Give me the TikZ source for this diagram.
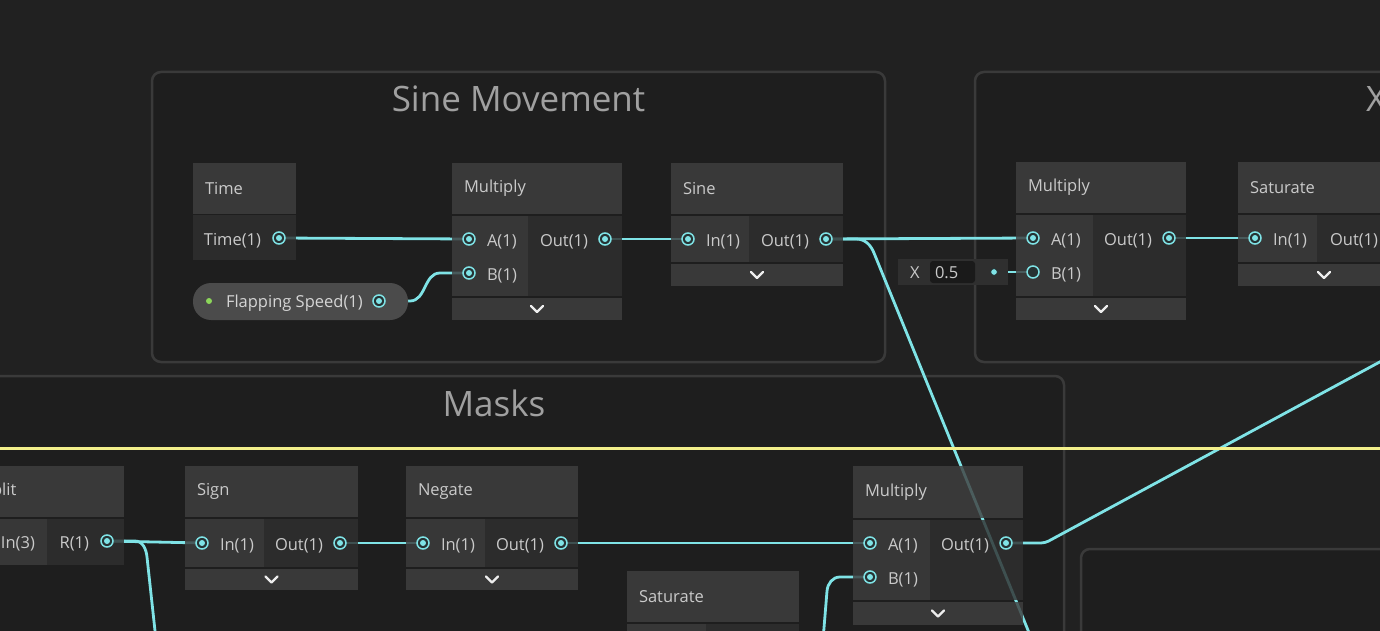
\documentclass[tikz,border=0pt]{standalone}
\usepackage{fontspec}
\setmainfont{Open Sans}
\usetikzlibrary{positioning,calc}

\definecolor{bgc}{HTML}{212121}
\definecolor{grpfill}{HTML}{1E1E1E}
\definecolor{grpline}{HTML}{3A3A3A}
\definecolor{grptext}{HTML}{A0A0A0}
\definecolor{nhead}{HTML}{404040}
\definecolor{nin}{HTML}{3D3D3D}
\definecolor{nout}{HTML}{303030}
\definecolor{nbar}{HTML}{3F3F3F}
\definecolor{ntext}{HTML}{CACACA}
\definecolor{wirec}{HTML}{7FE3E6}
\definecolor{portbg}{HTML}{263233}
\definecolor{pillc}{HTML}{4B4B4B}
\definecolor{fieldc}{HTML}{2F2F2F}
\definecolor{fieldin}{HTML}{1A1A1A}
\definecolor{propdot}{HTML}{8CD65A}
\definecolor{stickyc}{HTML}{F3F08B}
\definecolor{chevc}{HTML}{EDEDED}

\newcommand{\nfont}{\fontsize{16.5}{19}\selectfont}
\newcommand{\gfont}{\fontsize{35}{40}\selectfont}

\pgfdeclarelayer{bg}
\pgfdeclarelayer{edges}
\pgfdeclarelayer{fg}
\pgfsetlayers{bg,edges,main,fg}

\tikzset{
    every node/.append style={outer sep=0pt},
    chevron/.pic={\draw[chev] (-6,-3) -- (0,3) -- (6,-3);}
}

\begin{document}
\begin{tikzpicture}[x=1pt, y=-1pt,
    grp/.style={anchor=north west, draw=grpline, line width=2.5pt, fill=grpfill, rounded corners=9pt, inner sep=0pt},
    gtitle/.style={text=grptext, font=\gfont, inner sep=0pt},
    hdr/.style={anchor=north west, fill=nhead, fill opacity=0.82, text opacity=1, text=ntext, minimum height=51pt, inner xsep=12pt, inner ysep=0pt, align=left, font=\nfont},
    incol/.style={anchor=north west, fill=nin, fill opacity=0.82, inner sep=0pt},
    outcol/.style={anchor=north west, fill=nout, fill opacity=0.82, inner sep=0pt},
    bar/.style={anchor=north west, fill=nbar, fill opacity=0.82, minimum height=22pt, inner sep=0pt},
    lbl/.style={anchor=west, text=ntext, font=\nfont, inner sep=0pt, yshift=-2.5pt},
    port/.style={circle, draw=wirec, line width=1.5pt, fill=portbg, minimum size=12pt, inner sep=0pt,
        path picture={\fill[wirec] (path picture bounding box.center) circle (3pt);}},
    portoff/.style={circle, draw=wirec, line width=1.5pt, fill=portbg, minimum size=12pt, inner sep=0pt},
    wire/.style={draw=wirec, line width=2.8pt},
    chev/.style={draw=chevc, line width=2.4pt, line cap=round, line join=round}
]
\useasboundingbox (0,0) rectangle (1380,631);

\begin{pgfonlayer}{bg}
\fill[bgc] (0,0) rectangle (1380,631);
\node[grp, minimum width=733pt, minimum height=290pt] (gsine) at (152,72) {};
\node[grp, minimum width=520pt, minimum height=290pt] (gx) at (975,72) {};
\node[grp, minimum width=1140pt, minimum height=320pt] (gmask) at (-76,376) {};
\node[grp, minimum width=400pt, minimum height=160pt] (gside) at (1081,549) {};
\end{pgfonlayer}

\node[gtitle] (gsinet) at ([yshift=-27pt]gsine.north) {Sine Movement};
\node[gtitle, anchor=west] (gxt) at (1366,99) {X};
\node[gtitle] (gmaskt) at ([yshift=-27pt]gmask.north) {Masks};

% Sine Movement
\node[hdr, text width=79pt] (tn) at (193,163) {Time};
\node[outcol, minimum width=103pt, minimum height=45pt] (tnout) at (193,215) {};
\node[port] (tm) at (279,238) {};
\node[lbl, left=12pt of tm] (tml) {Time(1)};

\node[anchor=north west, fill=pillc, rounded corners=18pt, minimum width=215pt, minimum height=37pt, inner sep=0pt] (fs) at (193,283) {};
\node[circle, fill=propdot, minimum size=6pt, inner sep=0pt] (fsd) at (209,301) {};
\node[lbl, text=ntext!80!white] (fsl) at (226,301) {Flapping Speed(1)};
\node[port] (fsp) at (379,301) {};

\node[hdr, text width=146pt] (m1) at (452,163) {Multiply};
\node[incol, minimum width=76pt, minimum height=80pt] (m1in) at (452,216) {};
\node[outcol, minimum width=94pt, minimum height=80pt] (m1out) at (528,216) {};
\node[bar, minimum width=170pt] (m1bar) at (452,298) {};
\pic at (m1bar) {chevron};
\node[port] (m1a) at (469,239) {};
\node[port] (m1b) at (469,273) {};
\node[port] (m1o) at (605,239) {};
\node[lbl, right=12pt of m1a] (m1al) {A(1)};
\node[lbl, right=12pt of m1b] (m1bl) {B(1)};
\node[lbl, left=11pt of m1o] (m1ol) {Out(1)};

\node[hdr, text width=148pt] (sn) at (671,163) {Sine};
\node[incol, minimum width=78pt, minimum height=46pt] (snin) at (671,216) {};
\node[outcol, minimum width=94pt, minimum height=46pt] (snout) at (749,216) {};
\node[bar, minimum width=172pt] (snbar) at (671,264) {};
\pic at (snbar) {chevron};
\node[port] (si) at (688,239) {};
\node[port] (so) at (826,239) {};
\node[lbl, right=12pt of si] (sil) {In(1)};
\node[lbl, left=11pt of so] (sol) {Out(1)};

% X group
\node[anchor=north west, fill=fieldc, minimum width=110pt, minimum height=26pt, inner sep=0pt] (xf) at (898,259) {};
\node[lbl] (xfl) at (910,270) {X};
\node[anchor=north west, fill=fieldin, rounded corners=3pt, minimum width=45pt, minimum height=22pt, inner sep=0pt] (xv) at (930,261) {};
\node[lbl] (xvl) at (935,270) {0.5};
\node[circle, fill=wirec, draw=portbg, line width=1pt, minimum size=7pt, inner sep=0pt] (xd) at (994,272) {};

\node[hdr, text width=146pt] (m2) at (1016,162) {Multiply};
\node[incol, minimum width=77pt, minimum height=81pt] (m2in) at (1016,215) {};
\node[outcol, minimum width=93pt, minimum height=81pt] (m2out) at (1093,215) {};
\node[bar, minimum width=170pt] (m2bar) at (1016,298) {};
\pic at (m2bar) {chevron};
\node[port] (m2a) at (1033,238) {};
\node[portoff] (m2b) at (1033,272) {};
\node[port] (m2o) at (1169,238) {};
\node[lbl, right=12pt of m2a] (m2al) {A(1)};
\node[lbl, right=12pt of m2b] (m2bl) {B(1)};
\node[lbl, left=11pt of m2o] (m2ol) {Out(1)};

\node[hdr, text width=148pt] (st) at (1238,162) {Saturate};
\node[incol, minimum width=79pt, minimum height=47pt] (stin) at (1238,215) {};
\node[outcol, minimum width=93pt, minimum height=47pt] (stout) at (1317,215) {};
\node[bar, minimum width=172pt] (stbar) at (1238,264) {};
\pic at (stbar) {chevron};
\node[port] (sti) at (1255,238) {};
\node[lbl, right=12pt of sti] (stil) {In(1)};
\node[lbl] (stol) at (1330,238) {Out(1)};

% Masks
\node[hdr, text width=129pt] (sp) at (-29,466) {Split};
\node[incol, minimum width=76pt, minimum height=46pt] (spin) at (-29,519) {};
\node[outcol, minimum width=77pt, minimum height=46pt] (spout) at (47,519) {};
\node[lbl] (spil) at (1,541) {In(3)};
\node[port] (sr) at (107,541) {};
\node[lbl, left=12pt of sr] (srl) {R(1)};

\node[hdr, text width=149pt] (sg) at (185,466) {Sign};
\node[incol, minimum width=79pt, minimum height=48pt] (sgin) at (185,519) {};
\node[outcol, minimum width=94pt, minimum height=48pt] (sgout) at (264,519) {};
\node[bar, minimum width=173pt, minimum height=21pt] (sgbar) at (185,569) {};
\pic at (sgbar) {chevron};
\node[port] (sgi) at (202,543) {};
\node[port] (sgo) at (340,543) {};
\node[lbl, right=12pt of sgi] (sgil) {In(1)};
\node[lbl, left=11pt of sgo] (sgol) {Out(1)};

\node[hdr, text width=148pt] (ng) at (406,466) {Negate};
\node[incol, minimum width=79pt, minimum height=48pt] (ngin) at (406,519) {};
\node[outcol, minimum width=93pt, minimum height=48pt] (ngout) at (485,519) {};
\node[bar, minimum width=172pt, minimum height=21pt] (ngbar) at (406,569) {};
\pic at (ngbar) {chevron};
\node[port] (ngi) at (423,543) {};
\node[port] (ngo) at (561,543) {};
\node[lbl, right=12pt of ngi] (ngil) {In(1)};
\node[lbl, left=11pt of ngo] (ngol) {Out(1)};

\node[hdr, text width=146pt, minimum height=52pt] (m3) at (853,466) {Multiply};
\node[incol, minimum width=77pt, minimum height=80pt] (m3in) at (853,520) {};
\node[outcol, minimum width=93pt, minimum height=80pt] (m3out) at (930,520) {};
\node[bar, minimum width=170pt, minimum height=23pt] (m3bar) at (853,602) {};
\pic at (m3bar) {chevron};
\node[port] (m3a) at (870,543) {};
\node[port] (m3b) at (870,577) {};
\node[port] (m3o) at (1006,543) {};
\node[lbl, right=12pt of m3a] (m3al) {A(1)};
\node[lbl, right=12pt of m3b] (m3bl) {B(1)};
\node[lbl, left=11pt of m3o] (m3ol) {Out(1)};

\node[hdr, text width=148pt] (sb) at (627,571) {Saturate};
\node[incol, minimum width=79pt, minimum height=20pt] (sbin) at (627,624) {};
\node[outcol, minimum width=93pt, minimum height=20pt] (sbout) at (706,624) {};

% loose wire ends
\coordinate (offa) at (1032,640);
\coordinate (offb) at (156,640);
\coordinate (offc) at (823,640);
\coordinate (offd) at (1400,351);

\begin{pgfonlayer}{edges}
\draw[wire] (tm) -- (m1a);
\draw[wire] (fsp) -- ++(31,0) to[out=0,in=180] ++(30,-28) -- (m1b);
\draw[wire] (m1o) -- (si);
\draw[wire] (so) -- (m2a);
\draw[wire] (so) -- ++(30,0) to[out=0,in=112] ++(18,14) -- (offa);
\draw[wire] (xd) -- (m2b);
\draw[wire] (m2o) -- (sti);
\draw[wire] (sr) -- (sgi);
\draw[wire] (sr) -- ++(28,0) to[out=0,in=96] ++(12,16) -- (offb);
\draw[wire] (sgo) -- (ngi);
\draw[wire] (ngo) -- (m3a);
\draw[wire] (m3b) -- ++(-30,0) to[out=180,in=85] ++(-13,14) -- (offc);
\draw[wire, rounded corners=4pt] (m3o) -- ++(39,0) -- (offd);
\end{pgfonlayer}

\begin{pgfonlayer}{fg}
\draw[stickyc, line width=3pt] (0,448) -- (1380,448);
\end{pgfonlayer}
\end{tikzpicture}
\end{document}
